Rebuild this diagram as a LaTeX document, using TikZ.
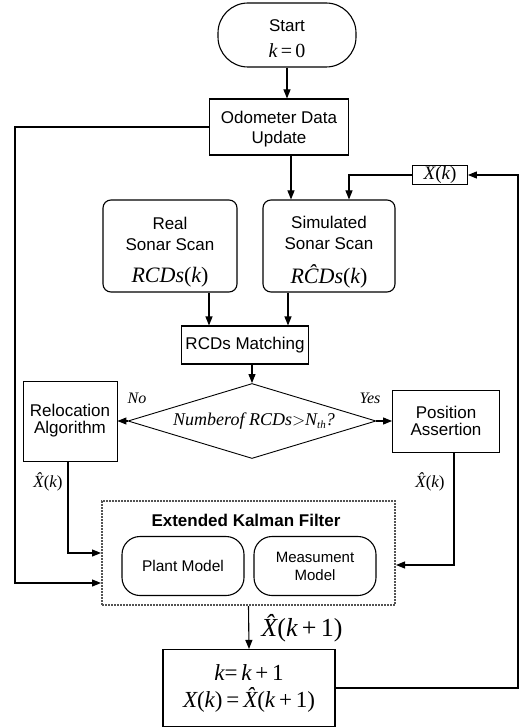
\documentclass[tikz,border=0pt]{standalone}
\usepackage{fontspec}
\setmainfont{Liberation Sans}
\newfontfamily\tms{Liberation Serif}
\newcommand{\mi}[1]{{\tms\itshape #1}}
\newcommand{\mr}[1]{{\tms #1}}
\usetikzlibrary{arrows.meta,shapes.geometric,calc}
\begin{document}
\begin{tikzpicture}[x=1pt,y=-1pt,
  every node/.style={font=\fontsize{17}{18}\selectfont, align=center, inner sep=0pt},
  box/.style={draw, line width=1.1pt},
  rbox/.style={draw, line width=1.1pt, rounded corners=8pt},
  arr/.style={line width=1.1pt, -{Triangle[length=9pt,width=7pt]}},
  lbl/.style={font=\fontsize{16}{18}\selectfont\tms\itshape}]
\useasboundingbox (0,0) rectangle (521,727);

\node[draw, line width=1.1pt, rounded corners=30pt, minimum width=138pt, minimum height=64pt] (start) at (287,35) {};
\node (startt) at (287,39) {Start\\[8pt] {\fontsize{20}{20}\selectfont\mi{k}\,\mr{=}\,\mr{0}}};
\node[box, minimum width=139pt, minimum height=56pt] (odo) at (279,127) {};
\node (odot) at (279,129) {Odometer Data\\[2pt]Update};
\node[draw, line width=0.8pt, minimum width=55pt, minimum height=19pt] (xk) at (440,175) {\fontsize{19}{19}\selectfont\mi{X}\mr{(}\mi{k}\mr{)}};
\node[rbox, minimum width=134pt, minimum height=92pt] (real) at (170,246) {};
\node (realt) at (170,252) {Real\\[3pt]Sonar Scan\\[14pt]{\fontsize{22}{22}\selectfont\mi{RCDs}\mr{(}\mi{k}\mr{)}}};
\node[rbox, minimum width=132pt, minimum height=92pt] (sim) at (329,246) {};
\node (simt) at (329,252) {Simulated\\[3pt]Sonar Scan\\[14pt]{\fontsize{22}{22}\selectfont\mi{R\^CDs}\mr{(}\mi{k}\mr{)}}};
\node[box, minimum width=127pt, minimum height=38pt] (match) at (245,345) {RCDs Matching};
\node[draw, line width=0.9pt, diamond, aspect=3.3, minimum width=248pt, minimum height=75pt] (dia) at (252,421) {};
\node[font=\fontsize{18}{20}\selectfont\tms\itshape] (diat) at (254,421) {Numberof RCDs\mr{$>$}N\raisebox{-3pt}{\fontsize{11}{11}\selectfont th}\mr{?}};
\node[box, line width=0.9pt, minimum width=94pt, minimum height=80pt] (rel) at (70,421) {Relocation\\[-1pt]Algorithm};
\node[box, line width=0.9pt, minimum width=107pt, minimum height=62pt] (pos) at (446,421) {Position\\[-1pt]Assertion};
\node[draw=gray!65!black, dash pattern=on 2pt off 1pt, line width=2pt, minimum width=293pt, minimum height=104pt] (ekf) at (248.5,553) {};
\node[font=\fontsize{17}{18}\selectfont\bfseries] (ekft) at (246,520) {Extended Kalman Filter};
\node[draw, line width=1.1pt, rounded corners=18pt, minimum width=122pt, minimum height=59pt, font=\fontsize{15.5}{17}\selectfont] (plant) at (183,566) {Plant Model};
\node[draw, line width=1.1pt, rounded corners=18pt, minimum width=122pt, minimum height=59pt, font=\fontsize{15}{17}\selectfont] (meas) at (315,566) {Measument\\[1pt]Model};
\node[box, minimum width=172pt, minimum height=77pt, font=\fontsize{23}{24}\selectfont] (fin) at (249,688) {\mi{k}\mr{=}\,\mi{k}\,\mr{+}\,\mr{1}\\[3pt]\mi{X}\mr{(}\mi{k}\mr{)}\,\mr{=}\,\mi{\^X}\mr{(}\mi{k}\,\mr{+}\,\mr{1)}};

% labels
\node[lbl] (no) at (137,398) {No};
\node[lbl] (yes) at (370,398) {Yes};
\node (xl) at (48,482) {\fontsize{17}{17}\selectfont\mi{\^X}\mr{(}\mi{k}\mr{)}};
\node (xr) at (430,482) {\fontsize{17}{17}\selectfont\mi{\^X}\mr{(}\mi{k}\mr{)}};
\node (xk1) at (302,628) {\fontsize{26}{26}\selectfont\mi{\^X}\mr{(}\mi{k}\,\mr{+}\,\mr{1)}};

% coordinates
\coordinate (lft) at (15,583);
\coordinate (rt) at (518,175);
\coordinate (c1) at (291,0);
\coordinate (c2) at (349,0);
\coordinate (c3) at (209,0);
\coordinate (c4) at (288,0);
\coordinate (c5) at (68,553);
\coordinate (c6) at (454,565);

% connectors
\draw[arr] (start.south) -- (start.south |- odo.north);
\draw[arr] (odo.west) -| (lft) -- (lft -| ekf.west);
\draw[arr] (odo.south -| c1) -- (sim.north -| c1);
\draw[arr] (fin.east) -| (rt) -- (xk.east);
\draw[arr] (xk.west) -| (sim.north -| c2);
\draw[arr] (real.south -| c3) -- (match.north -| c3);
\draw[arr] (sim.south -| c4) -- (match.north -| c4);
\draw[arr] (match.south -| dia.north) -- (dia.north);
\draw[arr] (dia.west) -- (rel.east);
\draw[arr] (dia.east) -- (pos.west);
\draw[arr] (rel.south -| c5) -- (c5) -- (c5 -| ekf.west);
\draw[arr] (pos.south -| c6) -- (c6) -- (c6 -| ekf.east);
\draw[arr] (ekf.south) -- (fin.north);
\end{tikzpicture}
\end{document}
